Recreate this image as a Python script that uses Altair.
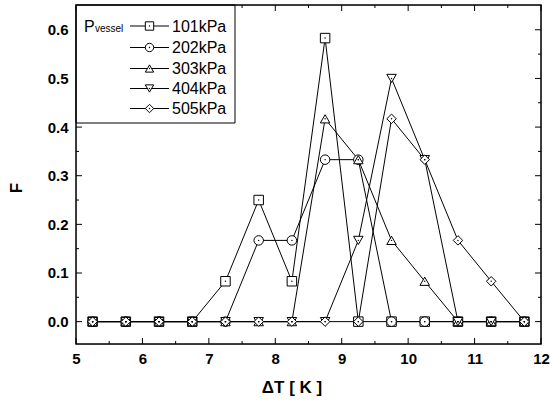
import altair as alt
import pandas as pd

# ---- data ----
x_vals = [5.25, 5.75, 6.25, 6.75, 7.25, 7.75, 8.25, 8.75, 9.25, 9.75, 10.25, 10.75, 11.25, 11.75]
f_101 = [0, 0, 0, 0, 0.083, 0.25, 0.083, 0.583, 0, 0, 0, 0, 0, 0]
f_202 = [0, 0, 0, 0, 0, 0.167, 0.167, 0.333, 0.333, 0, 0, 0, 0, 0]
f_303 = [0, 0, 0, 0, 0, 0, 0, 0.417, 0.333, 0.167, 0.083, 0, 0, 0]
f_404 = [0, 0, 0, 0, 0, 0, 0, 0, 0.167, 0.5, 0.333, 0, 0, 0]
f_505 = [0, 0, 0, 0, 0, 0, 0, 0, 0, 0.417, 0.333, 0.167, 0.083, 0]
series_names = ["101kPa", "202kPa", "303kPa", "404kPa", "505kPa"]
series_shapes = ["square", "circle", "triangle-up", "triangle-down", "diamond"]

x_ticks_major = [5, 6, 7, 8, 9, 10, 11, 12]
x_ticks_minor = [5.5, 6.5, 7.5, 8.5, 9.5, 10.5, 11.5]
y_ticks_major = [0.0, 0.1, 0.2, 0.3, 0.4, 0.5, 0.6]
y_ticks_minor = [0.05, 0.15, 0.25, 0.35, 0.45, 0.55]

rows = []
for name, vals in zip(series_names, [f_101, f_202, f_303, f_404, f_505]):
    for i, (xv, yv) in enumerate(zip(x_vals, vals)):
        rows.append({"series": name, "x": xv, "F": yv, "i": i})
df = pd.DataFrame(rows)

FONT = "Liberation Sans"
W, H = 465, 339

xscale = alt.Scale(domain=[5, 12], nice=False, zero=False)
yscale = alt.Scale(domain=[-0.046, 0.651], nice=False, zero=False)

xaxis = alt.Axis(values=x_ticks_major, format="d", title=None, ticks=False, domain=False, grid=False,
                 labelFont=FONT, labelFontSize=15, labelFontWeight="bold", labelColor="black",
                 labelPadding=7, labelFlush=False, labelOverlap=False)
yaxis = alt.Axis(values=y_ticks_major, format=".1f", title=None, ticks=False, domain=False, grid=False,
                 labelFont=FONT, labelFontSize=15, labelFontWeight="bold", labelColor="black",
                 labelPadding=8, labelFlush=False, labelOverlap=False)

Xp = alt.X("x:Q", scale=xscale, axis=xaxis)
Yp = alt.Y("F:Q", scale=yscale, axis=yaxis)

one = pd.DataFrame({"a": [0]})

frame = alt.Chart(one).mark_rect(fillOpacity=0, stroke="black", strokeWidth=1.5).encode(
    x=alt.value(0), x2=alt.value(W), y=alt.value(0), y2=alt.value(H))

lines = alt.Chart(df).mark_line(color="black", strokeWidth=1).encode(
    x=Xp, y=Yp, detail="series:N", order="i:Q")

points = alt.Chart(df).mark_point(filled=True, fill="white", stroke="black", strokeWidth=1,
                                  opacity=1, size=90).encode(
    x=Xp, y=Yp,
    shape=alt.Shape("series:N", scale=alt.Scale(domain=series_names, range=series_shapes), legend=None))

dots = alt.Chart(df).mark_point(filled=True, color="black", opacity=1, size=2, shape="circle").encode(
    x=Xp, y=Yp)

# ---- inward ticks on all four sides ----
def xtick_layer(vals, length, top):
    d = pd.DataFrame({"x": vals})
    if top:
        yv, y2v = 0, length
    else:
        yv, y2v = H, H - length
    return alt.Chart(d).mark_rule(color="black", strokeWidth=1).encode(
        x=Xp, y=alt.value(yv), y2=alt.value(y2v))

def ytick_layer(vals, length, right):
    d = pd.DataFrame({"F": vals})
    if right:
        xv, x2v = W, W - length
    else:
        xv, x2v = 0, length
    return alt.Chart(d).mark_rule(color="black", strokeWidth=1).encode(
        y=Yp, x=alt.value(xv), x2=alt.value(x2v))

ticks = [
    xtick_layer(x_ticks_major, 6, False), xtick_layer(x_ticks_minor, 3, False),
    xtick_layer(x_ticks_major, 6, True), xtick_layer(x_ticks_minor, 3, True),
    ytick_layer(y_ticks_major, 6, False), ytick_layer(y_ticks_minor, 3, False),
    ytick_layer(y_ticks_major, 6, True), ytick_layer(y_ticks_minor, 3, True),
]

# ---- custom legend (layout in pixels) ----
legend_layers = [
    alt.Chart(one).mark_rect(fill="white", stroke="black", strokeWidth=1).encode(
        x=alt.value(0), x2=alt.value(159), y=alt.value(0), y2=alt.value(118))
]
row_y = [21, 42.5, 63.5, 83.5, 103.5]
for name, shp, ry in zip(series_names, series_shapes, row_y):
    legend_layers.append(alt.Chart(one).mark_rule(color="black", strokeWidth=1).encode(
        x=alt.value(54), x2=alt.value(93), y=alt.value(ry)))
    legend_layers.append(alt.Chart(one).mark_point(filled=True, fill="white", stroke="black",
                                                   strokeWidth=1, opacity=1, size=70, shape=shp).encode(
        x=alt.value(73.5), y=alt.value(ry)))
    legend_layers.append(alt.Chart(one).mark_point(filled=True, color="black", opacity=1, size=2,
                                                   shape="circle").encode(
        x=alt.value(73.5), y=alt.value(ry)))
    legend_layers.append(alt.Chart(one).mark_text(align="left", baseline="middle", font=FONT,
                                                  fontSize=16, color="black").encode(
        x=alt.value(96), y=alt.value(ry + 0.5), text=alt.value(name)))
legend_layers.append(alt.Chart(one).mark_text(align="left", baseline="alphabetic", font=FONT,
                                              fontSize=16, color="black").encode(
    x=alt.value(8), y=alt.value(row_y[0] + 6), text=alt.value("P")))
legend_layers.append(alt.Chart(one).mark_text(align="left", baseline="alphabetic", font=FONT,
                                              fontSize=10, color="black").encode(
    x=alt.value(19), y=alt.value(row_y[0] + 6), text=alt.value("vessel")))

# ---- axis titles ----
titles = [
    alt.Chart(one).mark_text(align="center", baseline="middle", font=FONT, fontSize=17,
                             fontWeight="bold", color="black").encode(
        x=alt.value(216), y=alt.value(383), text=alt.value("ΔT [ K ]")),
    alt.Chart(one).mark_text(align="center", baseline="middle", font=FONT, fontSize=17,
                             fontWeight="bold", color="black", angle=270).encode(
        x=alt.value(-59), y=alt.value(183), text=alt.value("F")),
]

chart = alt.layer(lines, points, dots, *ticks, *legend_layers, frame, *titles).properties(
    width=W, height=H,
    autosize=alt.AutoSizeParams(type="none"),
    padding={"left": 76, "top": 5, "right": 9, "bottom": 63},
).configure_view(stroke=None).configure(background="white")

chart.save("out.html", embed_options={"renderer": "svg", "actions": False})
